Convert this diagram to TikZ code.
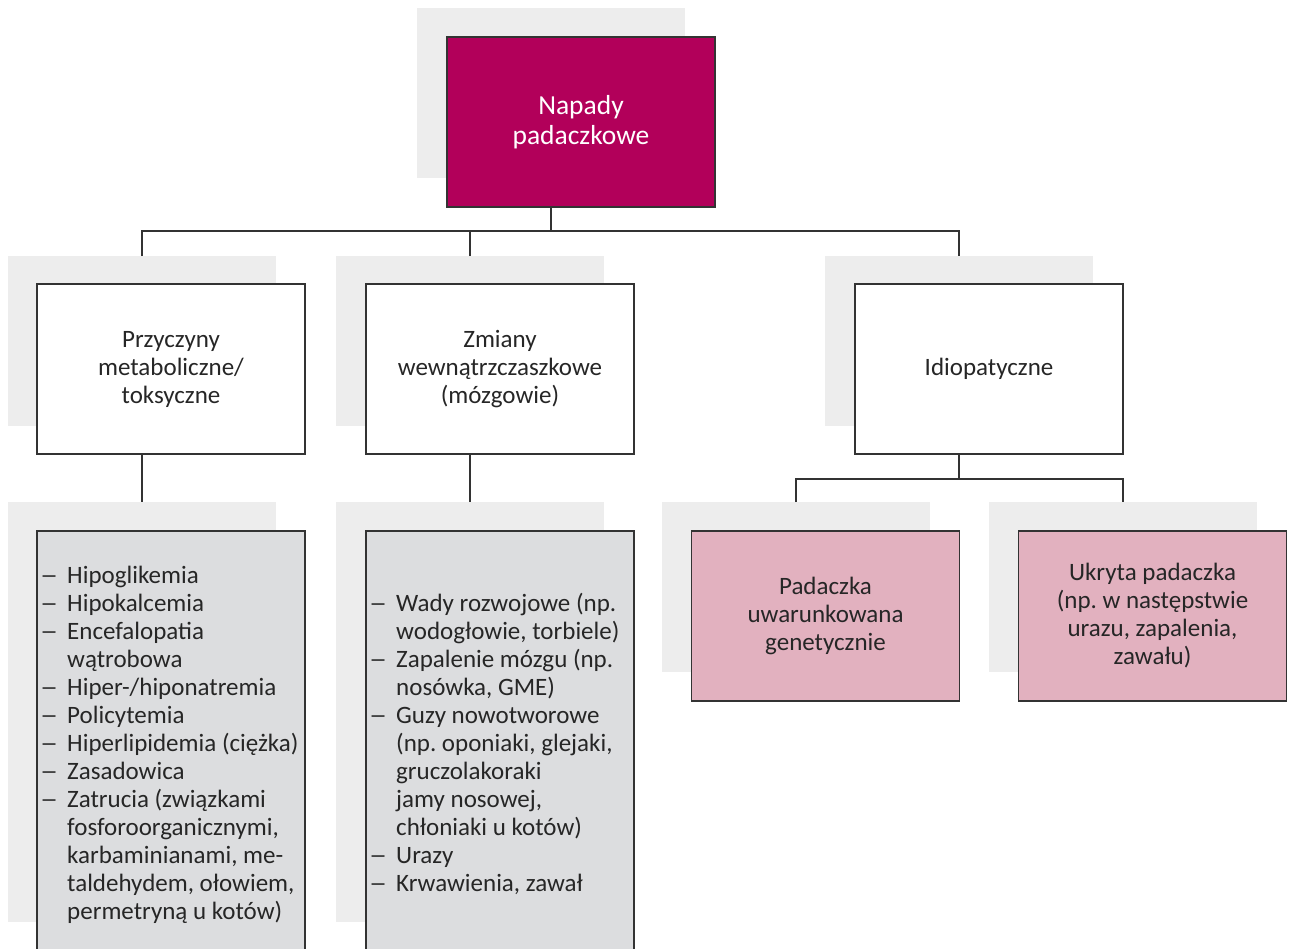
\documentclass[tikz,border=0pt]{standalone}
\usepackage{fontspec}
\setmainfont{Carlito}
\frenchspacing
\definecolor{rootfill}{HTML}{B2005A}
\definecolor{leaffill}{HTML}{E2B1BF}
\definecolor{listfill}{HTML}{DCDDDF}
\definecolor{shadowgray}{HTML}{EDEDED}
\definecolor{edgegray}{HTML}{333333}
\definecolor{inkgray}{HTML}{262626}
\newcommand{\chartfont}{\fontsize{25}{28}\selectfont\frenchspacing}
\newcommand{\rootfont}{\fontsize{27.5}{29.5}\selectfont}
\newcommand{\dashitem}[1]{\makebox[27pt][l]{\scalebox{1.45}[1]{–}}#1}
\newcommand{\contline}[1]{\hspace*{27pt}#1}
\begin{document}
\begin{tikzpicture}[x=1pt,y=-1pt,
  backing/.style={fill=shadowgray, draw=none, minimum width=268pt, minimum height=170pt, inner sep=0pt, outer sep=0pt},
  panel/.style={draw=edgegray, line width=1.2pt, minimum width=268pt, minimum height=170pt, inner sep=0pt, outer sep=0pt, align=center, font=\chartfont, text=inkgray},
  rootpanel/.style={panel, fill=rootfill, text=white, font=\rootfont},
  catpanel/.style={panel, fill=white},
  leafpanel/.style={panel, fill=leaffill},
  listpanel/.style={panel, fill=listfill, minimum height=440pt},
  tallbacking/.style={backing, minimum height=420pt},
  link/.style={draw=edgegray, line width=1.2pt},
  listtext/.style={anchor=base west, inner sep=0pt, font=\chartfont, text=inkgray}]
\useasboundingbox (0,0) rectangle (1289,948);
\clip (0,0) rectangle (1289,948);
\fill[white] (0,0) rectangle (1289,948);

% root
\node[backing] (rootsh) at (551,92.5) {};
\node[rootpanel] (root) at (581,122) {\raisebox{-2.5pt}{\parbox{260pt}{\centering Napady\\padaczkowe}}};

% second level
\node[backing] (s1) at (142,341) {};
\node[backing] (s2) at (470,341) {};
\node[backing] (s3) at (959,341) {};
\node[catpanel] (b1) at (171,369) {Przyczyny\\metaboliczne/\\toksyczne};
\node[catpanel] (b2) at (500,369) {Zmiany\\wewnątrzczaszkowe\\(mózgowie)};
\node[catpanel] (b3) at (989,369) {Idiopatyczne};

% third level: lists
\node[tallbacking] (l1sh) at (142,712) {};
\node[tallbacking] (l2sh) at (470,712) {};
\node[listpanel] (l1) at (171,751) {};
\node[listpanel] (l2) at (500,751) {};

% third level: idiopathic forms
\node[backing] (p1sh) at (796,587) {};
\node[backing] (p2sh) at (1123,587) {};
\node[leafpanel] (p1) at (825.5,616) {Padaczka\\uwarunkowana\\genetycznie};
\node[leafpanel] (p2) at (1152.5,616) {Ukryta padaczka\\(np. w następstwie\\urazu, zapalenia,\\zawału)};

% list contents
\node[listtext] (t1) at (40,583) {\parbox[t]{270pt}{\raggedright
\dashitem{Hipoglikemia}\\
\dashitem{Hipokalcemia}\\
\dashitem{Encefalopatia}\\
\contline{wątrobowa}\\
\dashitem{Hiper-/hiponatremia}\\
\dashitem{Policytemia}\\
\dashitem{Hiperlipidemia (ciężka)}\\
\dashitem{Zasadowica}\\
\dashitem{Zatrucia (związkami}\\
\contline{fosforoorganicznymi,}\\
\contline{karbaminianami, me-}\\
\contline{taldehydem, ołowiem,}\\
\contline{permetryną u kotów)}}};
\node[listtext] (t2) at (369,611) {\parbox[t]{270pt}{\raggedright
\dashitem{Wady rozwojowe (np.}\\
\contline{wodogłowie, torbiele)}\\
\dashitem{Zapalenie mózgu (np.}\\
\contline{nosówka, GME)}\\
\dashitem{Guzy nowotworowe}\\
\contline{(np. oponiaki, glejaki,}\\
\contline{gruczolakoraki}\\
\contline{jamy nosowej,}\\
\contline{chłoniaki u kotów)}\\
\dashitem{Urazy}\\
\dashitem{Krwawienia, zawał}}};

% connectors
\coordinate (bus1) at (551,231);
\coordinate (bus2) at (959,479);
\path[link] (root.south -| rootsh.south) -- (bus1);
\path[link] (s1.north) |- (bus1) -| (s3.north);
\path[link] (s2.north) -- (s2.north |- bus1);
\path[link] (b1.south -| s1.north) -- (l1sh.north);
\path[link] (b2.south -| s2.north) -- (l2sh.north);
\path[link] (b3.south -| s3.north) -- (bus2);
\path[link] (p1sh.north) |- (bus2) -| (p2sh.north);
\end{tikzpicture}
\end{document}
